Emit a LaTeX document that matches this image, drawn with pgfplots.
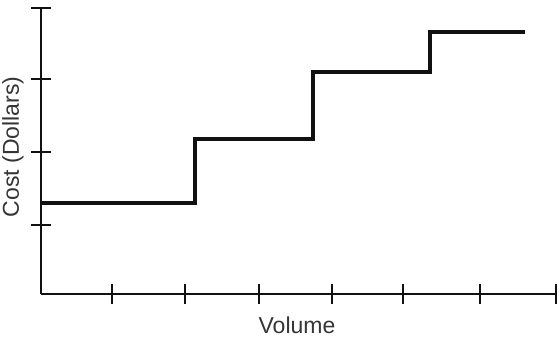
\documentclass[border=0pt]{standalone}
\usepackage{pgfplots}
\pgfplotsset{compat=1.18}
\usepackage{fontspec}
\setmainfont{Liberation Sans}
\definecolor{ink}{HTML}{111111}
\begin{document}
\begin{tikzpicture}
\begin{axis}[
  scale only axis,
  x=1pt, y=1pt,
  xmin=0, xmax=515, ymin=0, ymax=286,
  axis lines=left,
  axis line style={-, line width=2.3pt, color=ink},
  xtick={71,144,218,291,362,439,515},
  ytick={69,142,215,286},
  xticklabels={}, yticklabels={},
  tick align=center,
  major tick length=20pt,
  tick style={line width=2.3pt, color=ink},
  clip=false,
  xlabel={Volume},
  ylabel={Cost (Dollars)},
  label style={font=\fontsize{23}{26}\selectfont, color=ink!85},
  xlabel style={at={(axis cs:256,-31)}, anchor=center},
  ylabel style={at={(axis cs:-28,147)}, anchor=center},
]
\addplot[ink, line width=3.6pt, line join=miter] coordinates {
  (1,91) (154,91) (154,155) (272,155) (272,222) (389,222) (389,262) (484,262)
};
\coordinate (bl) at (axis cs:-41,-44);
\coordinate (tr) at (axis cs:519,294);
\end{axis}
\pgfresetboundingbox
\path (bl) rectangle (tr);
\end{tikzpicture}
\end{document}
